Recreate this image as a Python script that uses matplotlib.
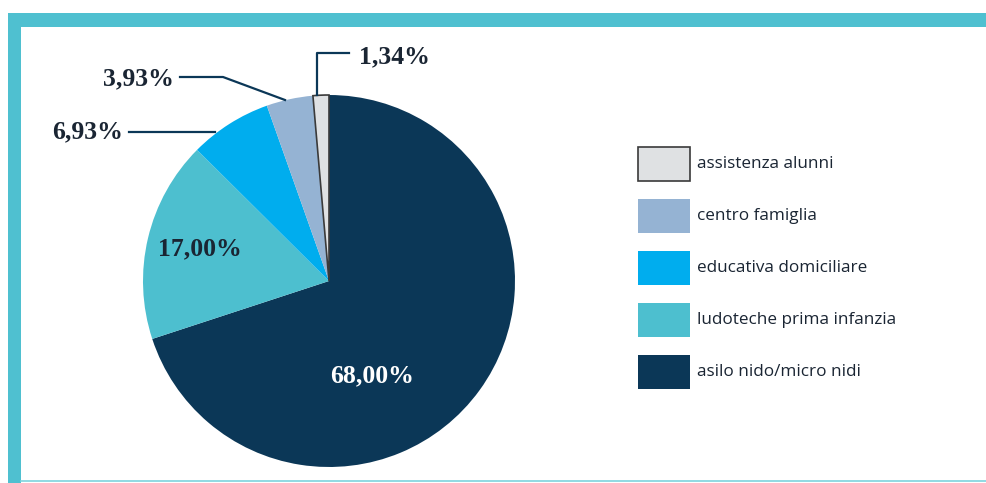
import matplotlib.pyplot as plt
from matplotlib.patches import Rectangle

# dati
categorie = ['asilo nido/micro nidi', 'ludoteche prima infanzia', 'educativa domiciliare',
             'centro famiglia', 'assistenza alunni']
valori = [68.00, 17.00, 6.93, 3.93, 1.34]
colori = ['#0b3757', '#4dbfcf', '#00adee', '#95b3d3', '#dfe1e3']
etichette = ['68,00%', '17,00%', '6,93%', '3,93%', '1,34%']

W, H = 987, 483
fig = plt.figure(figsize=(W / 100, H / 100), dpi=100)
ax = fig.add_axes([0, 0, 1, 1])

def py(y):
    # coordinate pixel (dall'alto) -> coordinate dati
    return H - y

# torta
cx, cy, r = 329, py(281), 186
wedges, _ = ax.pie(valori, colors=colori, startangle=90, counterclock=False,
                   center=(cx, cy), radius=r, frame=True,
                   wedgeprops=dict(linewidth=0))
wedges[-1].set_edgecolor('#3a3a3a')
wedges[-1].set_linewidth(1.2)
ax.set_xlim(0, W)
ax.set_ylim(0, H)
ax.set_aspect('equal')
ax.axis('off')

# cornice
teal = '#4fc0d0'
ax.add_patch(Rectangle((8, py(27)), W - 8 + 2, 14, color=teal, lw=0))
ax.add_patch(Rectangle((8, 0), 13, py(13), color=teal, lw=0))
ax.plot([21, W], [py(481), py(481)], color='#7dd3de', lw=1.2)

navy = '#0b3757'
testo = '#1a2533'
fs = dict(family='Liberation Serif', fontweight='bold', fontsize=18.5)

# etichette interne
ax.text(372, py(376), etichette[0], color='white', ha='center', va='center', **fs)
ax.text(200, py(249), etichette[1], color=testo, ha='center', va='center', **fs)

# etichette esterne con linee guida
ax.plot([129, 215], [py(132), py(132)], color=navy, lw=1.6)
ax.text(123, py(132), etichette[2], color=testo, ha='right', va='center', **fs)

ax.plot([180, 223, 285], [py(77), py(77), py(100)], color=navy, lw=1.6)
ax.text(174, py(79), etichette[3], color=testo, ha='right', va='center', **fs)

ax.plot([349, 317, 317], [py(53), py(53), py(95)], color=navy, lw=1.6)
ax.text(359, py(57), etichette[4], color=testo, ha='left', va='center', **fs)

# legenda
ordine_legenda = [4, 3, 2, 1, 0]
for i, k in enumerate(ordine_legenda):
    y0 = 147 + i * 52
    ec = '#3a3a3a' if k == 4 else 'none'
    ax.add_patch(Rectangle((638, py(y0 + 34)), 52, 34, facecolor=colori[k],
                           edgecolor=ec, lw=1.2))
    ax.text(697, py(y0 + 17), categorie[k], color=testo, ha='left', va='center',
            family='Open Sans', fontsize=12.3)

fig.savefig('out.png', dpi=100)
